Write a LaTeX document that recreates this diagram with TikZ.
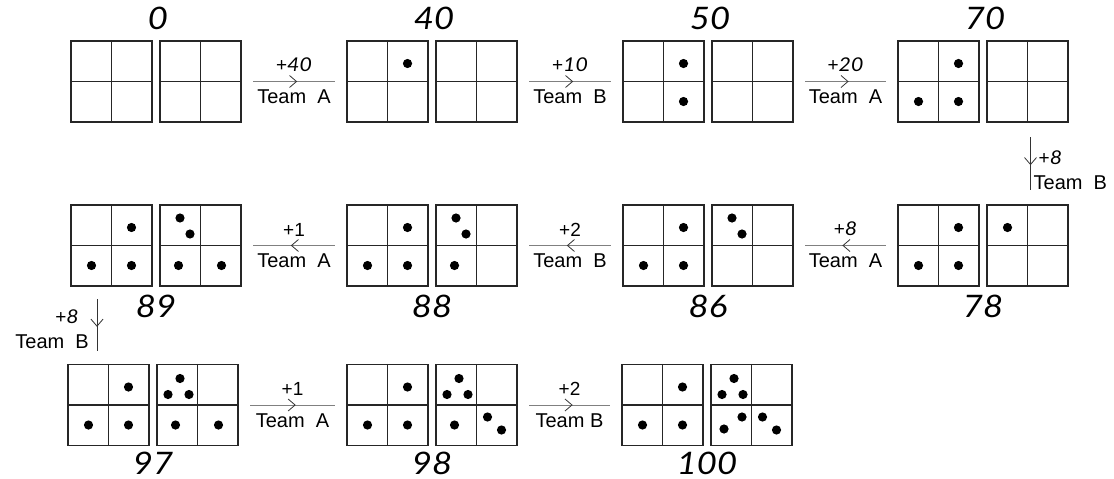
\documentclass[tikz,border=0pt]{standalone}
\usepackage{fontspec}
\setmainfont{Liberation Sans}
\newfontfamily\hand{Lato}[FakeStretch=1.12]
\usetikzlibrary{arrows.meta,calc,decorations.markings}

\newcommand{\putdot}[3]{\fill[black] ($(#1)+(#2,#3)$) circle (4.6pt);}

\tikzset{
  sq/.style={draw=black!85,line width=1.5pt,minimum size=81pt,inner sep=0pt},
  grid/.style={draw=black!85,line width=1.6pt},
  big/.style={font=\hand\itshape\fontsize{31}{33}\selectfont,inner sep=0pt},
  up/.style={above=9pt,inner sep=0pt,font=\fontsize{19}{21}\selectfont},
  dn/.style={below=8pt,inner sep=0pt,font=\fontsize{20}{22}\selectfont},
  lab/.style={inner sep=0pt,font=\fontsize{20}{22}\selectfont},
  chev/.style={decoration={markings,mark=at position #1 with
    {\arrow[black!80,line width=0.8pt]{Straight Barb[length=7pt,width=12pt]}}},
    postaction={decorate}},
  harr/.style={draw=black!50,line width=1pt,shorten <=11.5pt,shorten >=11.5pt,chev=.53},
  varr/.style={draw=black!80,line width=0.9pt,chev=.52}
}

\begin{document}
\begin{tikzpicture}[x=1pt,y=-1pt]
  \useasboundingbox (0,0) rectangle (1114,479);
  \foreach \n/\x/\y in {0/71/81.5,40/347/81.5,50/623/81.5,70/898/81.5,
      89/71/245.5,88/347/245.5,86/623/245.5,78/898/245.5,
      97/68/405,98/347/405,100/622/405}{
    \node[sq] (a\n) at (\x+40.5,\y) {};
    \node[sq] (b\n) at (\x+129.5,\y) {};
    \draw[grid] (a\n.north) -- (a\n.south) (a\n.west) -- (a\n.east);
    \draw[grid] (b\n.north) -- (b\n.south) (b\n.west) -- (b\n.east);
  }
  \foreach \n in {0,40,50,70}
    \node[big] (n\n) at ($(a\n.north)!.5!(b\n.north)+(2,-22)$) {\n};
  \foreach \n in {89,88,86,78}
    \node[big] (n\n) at ($(a\n.south)!.5!(b\n.south)+(0,20)$) {\n};
  \foreach \n in {97,98,100}
    \node[big] (n\n) at ($(a\n.south)!.5!(b\n.south)+(0,17.5)$) {\n};

  \putdot{a40}{20}{-18}
  \putdot{a50}{20}{-18} \putdot{a50}{20}{20}
  \foreach \n in {70,78,86,88,89,97,98,100}{
    \putdot{a\n}{20}{-18} \putdot{a\n}{-20}{20} \putdot{a\n}{20}{20}}
  \putdot{b78}{-20}{-18}
  \foreach \n in {86,88,89}{\putdot{b\n}{-20.5}{-27.5} \putdot{b\n}{-10.5}{-11.5}}
  \foreach \n in {88,89,97,98}{\putdot{b\n}{-22}{20}}
  \foreach \n in {89,97}{\putdot{b\n}{21}{20}}
  \foreach \n in {97,98,100}{
    \putdot{b\n}{-17.5}{-26.5} \putdot{b\n}{-29.5}{-10.5} \putdot{b\n}{-8.5}{-10.5}}
  \foreach \n in {98,100}{\putdot{b\n}{11}{12} \putdot{b\n}{25}{25}}
  \putdot{b100}{-27.5}{24} \putdot{b100}{-9.5}{12}

  \draw[harr] (b0.east) -- node[up] (p1) {+{\hand\itshape 40}} node[dn] (q1) {Team~~A} (a40.west);
  \draw[harr] (b40.east) -- node[up] (p2) {+{\hand\itshape 10}} node[dn] (q2) {Team~~B} (a50.west);
  \draw[harr] (b50.east) -- node[up] (p3) {+{\hand\itshape 20}} node[dn] (q3) {Team~~A} (a70.west);

  \draw[varr,shorten <=14.5pt,shorten >=14.5pt] ([xshift=3pt]b70.south) -- coordinate[midway] (m1) ([xshift=3pt]b78.north);
  \node[lab,font=\fontsize{19}{21}\selectfont,anchor=west] (p4) at ($(m1)+(8,-6)$) {+{\hand\itshape 8}};
  \node[lab,anchor=west] (q4) at ($(m1)+(3,19)$) {Team~~B};

  \draw[harr] (a78.west) -- node[up] (p5) {+{\hand\itshape 8}} node[dn] (q5) {Team~~A} (b86.east);
  \draw[harr] (a86.west) -- node[up] (p6) {+2} node[dn] (q6) {Team~~B} (b88.east);
  \draw[harr] (a88.west) -- node[up] (p7) {+1} node[dn] (q7) {Team~~A} (b89.east);

  \draw[varr,shorten <=12.5pt,shorten >=12.5pt] ([xshift=-14.5pt]a89.south) -- coordinate[midway] (m2) ([xshift=-11.5pt]a97.north);
  \node[lab,font=\fontsize{19}{21}\selectfont,anchor=east] (p8) at ($(m2)+(-18,-9)$) {+{\hand\itshape 8}};
  \node[lab,anchor=east] (q8) at ($(m2)+(-8,16)$) {Team~~B};

  \draw[harr] (b97.east) -- node[up] (p9) {+1} node[dn] (q9) {Team~~A} (a98.west);
  \draw[harr] (b98.east) -- node[up] (p10) {+2} node[dn] (q10) {Team B} (a100.west);
\end{tikzpicture}
\end{document}
